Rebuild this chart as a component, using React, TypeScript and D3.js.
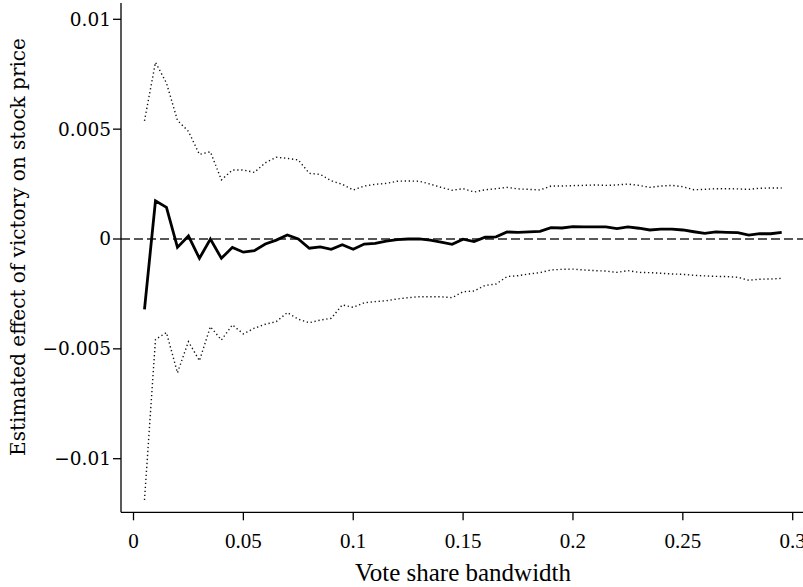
import React from "react";
import * as d3 from "d3";

const bandwidth: number[] = Array.from({ length: 59 }, (_, i) => +((i + 1) * 0.005).toFixed(3));

const estimate: number[] = [
  -0.0032, 0.00174, 0.00144, -0.00038, 0.00014, -0.00088, 0.0, -0.00088, -0.00038, -0.0006,
  -0.00053, -0.00023, -0.00005, 0.00018, 0.0, -0.00042, -0.00036, -0.00047, -0.00026, -0.00047,
  -0.00023, -0.0002, -0.0001, -0.00003, 0.0, 0.00001, -0.00005, -0.00014, -0.00024, -0.00001,
  -0.00012, 0.00008, 0.0001, 0.00032, 0.0003, 0.00032, 0.00035, 0.00052, 0.0005, 0.00056,
  0.00055, 0.00055, 0.00055, 0.00047, 0.00055, 0.00049, 0.00041, 0.00045, 0.00045, 0.00041,
  0.00033, 0.00026, 0.00032, 0.0003, 0.00029, 0.00018, 0.00024, 0.00024, 0.0003,
];

const upperCI: number[] = [
  0.00538, 0.00804, 0.0071, 0.0054, 0.0049, 0.00385, 0.00397, 0.00269, 0.00314, 0.00314,
  0.00303, 0.00347, 0.00372, 0.00367, 0.0036, 0.00299, 0.00294, 0.00265, 0.00249, 0.00223,
  0.00241, 0.00249, 0.00253, 0.00263, 0.00264, 0.00263, 0.0025, 0.00235, 0.00222, 0.00229,
  0.00214, 0.00224, 0.00229, 0.00235, 0.00228, 0.00226, 0.00223, 0.00241, 0.00241, 0.00243,
  0.00244, 0.00246, 0.00244, 0.00246, 0.0025, 0.00244, 0.00235, 0.00241, 0.00244, 0.00238,
  0.00224, 0.00226, 0.00229, 0.00229, 0.00228, 0.00226, 0.00231, 0.00232, 0.00232,
];

const lowerCI: number[] = [
  -0.01188, -0.00457, -0.00426, -0.00609, -0.00467, -0.00554, -0.00399, -0.0046, -0.00391, -0.00432,
  -0.00406, -0.00388, -0.00376, -0.00335, -0.00365, -0.00381, -0.00369, -0.00361, -0.003, -0.00311,
  -0.0029, -0.00285, -0.00281, -0.00273, -0.00267, -0.00263, -0.00263, -0.00263, -0.00267, -0.0024,
  -0.00237, -0.00211, -0.00205, -0.00171, -0.00167, -0.00159, -0.00153, -0.00141, -0.00138, -0.00137,
  -0.00141, -0.00144, -0.00146, -0.00152, -0.00144, -0.00152, -0.00153, -0.00156, -0.00159, -0.00161,
  -0.00165, -0.00168, -0.0017, -0.00171, -0.00174, -0.00188, -0.00183, -0.00182, -0.00179,
];

const xTicks: number[] = [0, 0.05, 0.1, 0.15, 0.2, 0.25, 0.3];
const xTickLabels: string[] = ["0", "0.05", "0.1", "0.15", "0.2", "0.25", "0.3"];
const yTicks: number[] = [0.01, 0.005, 0, -0.005, -0.01];
const yTickLabels: string[] = ["0.01", "0.005", "0", "\u22120.005", "\u22120.01"];

const W = 803;
const H = 587;

export default function App() {
  const x = d3.scaleLinear().domain([0, 0.3]).range([133.5, 792.7]);
  const y = d3.scaleLinear().domain([-0.01, 0.01]).range([458.7, 19.3]);
  const axisX = 121;
  const axisY = 512.3;

  const mk = (vals: number[]) =>
    d3
      .line<number>()
      .x((_, i) => x(bandwidth[i]))
      .y((d) => y(d))(vals) || "";

  return (
    <svg
      width={W}
      height={H}
      style={{ position: "absolute", left: 0, top: 0, background: "#fff" }}
    >
      <rect width={W} height={H} fill="#fff" />
      {/* zero reference line */}
      <line
        x1={axisX}
        x2={W}
        y1={y(0)}
        y2={y(0)}
        stroke="#222"
        strokeWidth={1.4}
        strokeDasharray="9,4"
      />
      {/* CI lines */}
      <path d={mk(upperCI)} fill="none" stroke="#111" strokeWidth={1.4} strokeDasharray="1.3,2.7" />
      <path d={mk(lowerCI)} fill="none" stroke="#111" strokeWidth={1.4} strokeDasharray="1.3,2.7" />
      {/* estimate */}
      <path d={mk(estimate)} fill="none" stroke="#000" strokeWidth={2.8} strokeLinejoin="miter" />

      {/* axes */}
      <line x1={axisX} x2={axisX} y1={3} y2={axisY} stroke="#000" strokeWidth={1.3} />
      <line x1={axisX} x2={W} y1={axisY} y2={axisY} stroke="#000" strokeWidth={1.3} />

      {yTicks.map((t, i) => (
        <g key={"y" + i}>
          <line x1={axisX - 8} x2={axisX} y1={y(t)} y2={y(t)} stroke="#000" strokeWidth={1.3} />
          <text
            x={axisX - 10}
            y={y(t)}
            dy="0.35em"
            textAnchor="end"
            fontFamily="'DejaVu Serif', serif"
            fontSize={18.5}
            fill="#000"
          >
            {yTickLabels[i]}
          </text>
        </g>
      ))}

      {xTicks.map((t, i) => (
        <g key={"x" + i}>
          <line x1={x(t)} x2={x(t)} y1={axisY} y2={axisY + 8} stroke="#000" strokeWidth={1.3} />
          <text
            x={x(t)}
            y={548}
            textAnchor="middle"
            fontFamily="'Liberation Serif', serif"
            fontSize={21}
            fill="#000"
          >
            {xTickLabels[i]}
          </text>
        </g>
      ))}

      <text
        x={463}
        y={581}
        textAnchor="middle"
        fontFamily="'Liberation Serif', serif"
        fontSize={25}
        fill="#000"
      >
        Vote share bandwidth
      </text>
      <text
        transform={`translate(25, 247) rotate(-90)`}
        textAnchor="middle"
        fontFamily="'DejaVu Serif', serif"
        fontSize={20}
        fill="#000"
      >
        Estimated effect of victory on stock price
      </text>
    </svg>
  );
}
